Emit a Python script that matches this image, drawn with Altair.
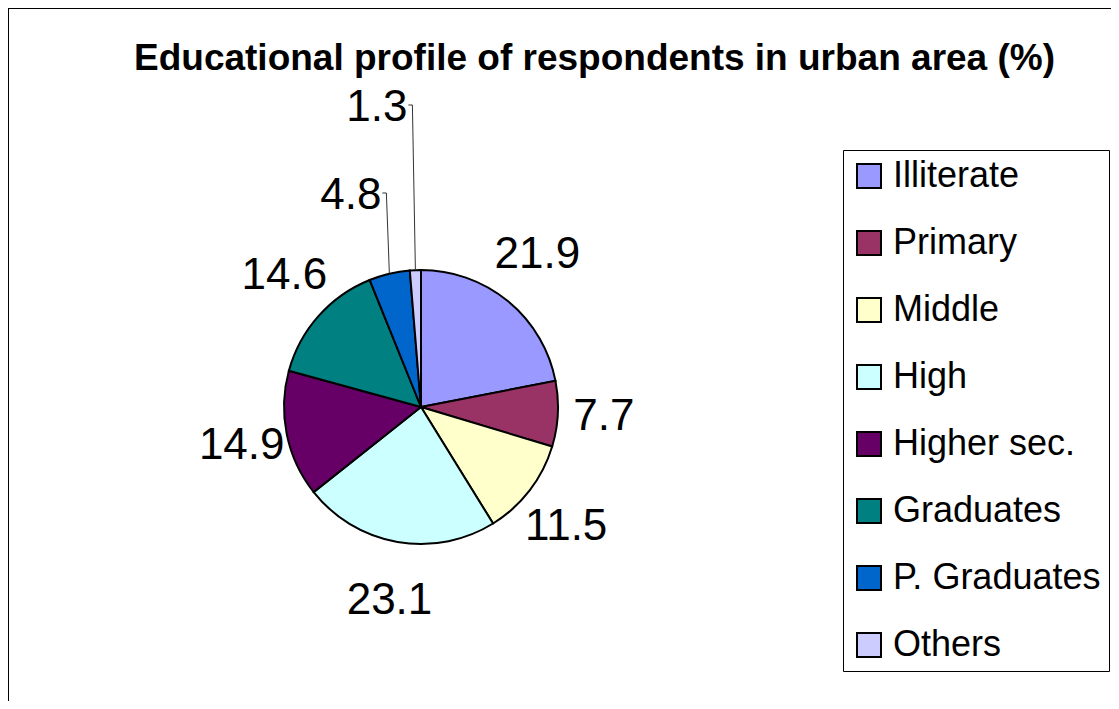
import altair as alt
import pandas as pd

# ---- data ----
categories = ["Illiterate", "Primary", "Middle", "High", "Higher sec.",
              "Graduates", "P. Graduates", "Others"]
values = [21.9, 7.7, 11.5, 23.1, 14.9, 14.6, 4.8, 1.3]
colors = ["#9999FF", "#993366", "#FFFFCC", "#CCFFFF", "#660066",
          "#008080", "#0066CC", "#CCCCFF"]
title_text = "Educational profile of respondents in urban area (%)"

# ---- layout (view coordinates) ----
W, H = 1103, 693
CX, CY, R = 413, 399, 137
RX, RY = 183, 197
FONT = "Liberation Sans"

df = pd.DataFrame({"category": categories, "value": values,
                   "idx": list(range(len(categories)))})

base = alt.Chart(df)

color = alt.Color(
    "category:N",
    scale=alt.Scale(domain=categories, range=colors),
    sort=categories,
    legend=alt.Legend(
        title=None, orient="none", legendX=835, legendY=142,
        symbolType="square", symbolSize=576, symbolStrokeColor="black",
        symbolStrokeWidth=2, symbolOpacity=1,
        labelFontSize=36, labelFont=FONT, labelColor="black",
        labelOffset=6, rowPadding=31, padding=8, labelLimit=400,
        strokeColor="black", fillColor="white",
    ),
)

pie = base.mark_arc(radius=R, stroke="black", strokeWidth=2).encode(
    theta=alt.Theta("value:Q", stack=True),
    color=color,
    order=alt.Order("idx:Q"),
    x=alt.value(CX),
    y=alt.value(CY),
)

calc = base.transform_window(
    cum="sum(value)", sort=[alt.SortField("idx")], frame=[None, 0]
).transform_joinaggregate(
    total="sum(value)"
).transform_calculate(
    mid="(datum.cum - datum.value/2) / datum.total * 2 * PI",
    label="format(datum.value, '.1f')",
)

big = calc.transform_filter("datum.value >= 5").transform_calculate(
    lx=f"{CX} + {RX} * sin(datum.mid)",
    ly=f"{CY} - {RY} * cos(datum.mid)",
).mark_text(fontSize=44, font=FONT, color="black", align="center",
            baseline="middle").encode(
    x=alt.X("lx:Q", scale=None, axis=None),
    y=alt.Y("ly:Q", scale=None, axis=None),
    text="label:N",
)

small = calc.transform_filter("datum.value < 5").transform_calculate(
    ex=f"{CX} + {R} * sin(datum.mid)",
    ey=f"{CY} - {R} * cos(datum.mid)",
).transform_calculate(
    top=f"datum.value < 2 ? {CY} - 302 : {CY} - 214",
).transform_calculate(
    tx="datum.ex - 3",
    hx="datum.ex - 7",
    lx="datum.ex - 8",
    ly="datum.top + 3",
)

leader_v = small.mark_rule(color="#333333", strokeWidth=1).encode(
    x=alt.X("ex:Q", scale=None, axis=None),
    y=alt.Y("ey:Q", scale=None, axis=None),
    x2="tx:Q", y2="top:Q",
)
leader_h = small.mark_rule(color="#333333", strokeWidth=1).encode(
    x=alt.X("tx:Q", scale=None, axis=None),
    y=alt.Y("top:Q", scale=None, axis=None),
    x2="hx:Q",
)
small_text = small.mark_text(fontSize=44, font=FONT, color="black",
                             align="right", baseline="middle").encode(
    x=alt.X("lx:Q", scale=None, axis=None),
    y=alt.Y("ly:Q", scale=None, axis=None),
    text="label:N",
)

frame_df = pd.DataFrame({"f": [0]})
frame_top = alt.Chart(frame_df).mark_rule(color="black", strokeWidth=2).encode(
    x=alt.value(0), x2=alt.value(W), y=alt.value(0))
frame_left = alt.Chart(frame_df).mark_rule(color="black", strokeWidth=2).encode(
    x=alt.value(0), y=alt.value(0), y2=alt.value(H))

chart = alt.layer(
    frame_top, frame_left, pie, big, leader_v, leader_h, small_text
).properties(
    width=W, height=H,
    autosize=alt.AutoSizeParams(type="none"),
    padding=0,
    background="white",
    title=alt.TitleParams(
        text=title_text, fontSize=37, font=FONT, fontWeight="bold",
        color="black", anchor="middle", dx=35, dy=100, offset=0,
        baseline="alphabetic",
    ),
).configure_view(stroke=None)

chart.save("out.html", embed_options={"renderer": "svg", "actions": False})
